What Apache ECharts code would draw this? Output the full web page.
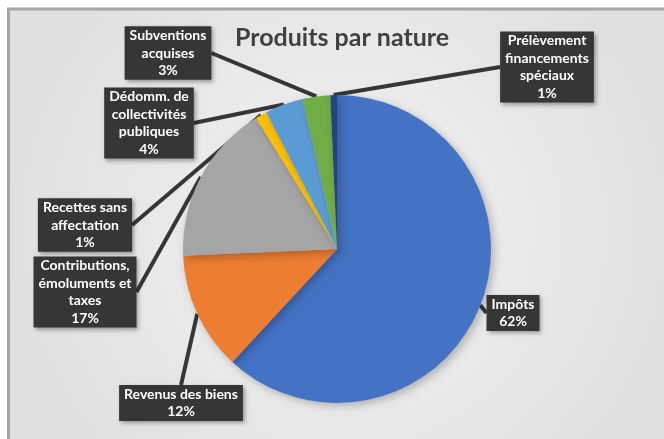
<!DOCTYPE html>
<html><head><meta charset="utf-8">
<script src="https://cdn.jsdelivr.net/npm/echarts@6/dist/echarts.min.js"></script>
<style>html,body{margin:0;padding:0;background:#fff}#c{width:664px;height:439px}</style>
</head><body><div id="c"></div>
<script>
const title = 'Produits par nature';
const categories = ['Impôts', 'Revenus des biens', 'Contributions,\némoluments et\ntaxes', 'Recettes sans\naffectation', 'Dédomm. de\ncollectivités\npubliques', 'Subventions\nacquises', 'Prélèvement\nfinancements\nspéciaux'];
const values = [61.9, 12.4, 16.9, 1.2, 4.0, 2.9, 0.7];
const colors = ['#4472c4', '#ed7d31', '#a5a5a5', '#ffc000', '#5b9bd5', '#70ad47', '#264478'];
// label box centres (layout, px)
const labelPos = [[513, 313], [181, 403], [85, 292], [85, 225], [149, 123], [168, 53], [547, 67]];

const chart = echarts.init(document.getElementById('c'));
chart.setOption({
  animation: false,
  graphic: [{
    type: 'rect', z: -10, silent: true,
    shape: {x: 8.5, y: 9, width: 670, height: 440},
    style: {
      fill: {type: 'radial', x: 0.5, y: 0.5, r: 0.75, colorStops: [
        {offset: 0, color: '#f4f4f4'}, {offset: 1, color: '#e0e0e0'}]},
      stroke: '#a6a6a6', lineWidth: 3
    }
  }],
  title: {
    text: title, left: 337, top: 20, textAlign: 'center',
    textStyle: {fontFamily: 'Lato', fontWeight: 'bold', fontSize: 25, color: '#404040'}
  },
  series: [{
    type: 'pie',
    center: [337, 249],
    radius: 154,
    startAngle: 90,
    clockwise: true,
    data: categories.map((n, i) => ({name: n, value: values[i], itemStyle: {color: colors[i]}})),
    itemStyle: {borderWidth: 0, shadowBlur: 8, shadowColor: 'rgba(0,0,0,0.25)', shadowOffsetX: 3, shadowOffsetY: 3},
    label: {
      show: true, position: 'outside',
      formatter: p => p.name + '\n' + Math.round(p.percent) + '%',
      fontFamily: 'Lato', fontWeight: 'bold', fontSize: 14, lineHeight: 17.5,
      color: '#fff', backgroundColor: '#363636', padding: [1, 5, 0, 5],
      align: 'center',
      shadowBlur: 4, shadowColor: 'rgba(0,0,0,0.35)', shadowOffsetX: 2, shadowOffsetY: 2
    },
    labelLine: {show: true, length: 0, length2: 0, smooth: false, lineStyle: {color: '#363636', width: 4}},
    labelLayout: function (params) {
      const p = labelPos[params.dataIndex];
      return {x: p[0], y: p[1], align: 'center', verticalAlign: 'middle'};
    }
  }]
});
</script></body></html>
